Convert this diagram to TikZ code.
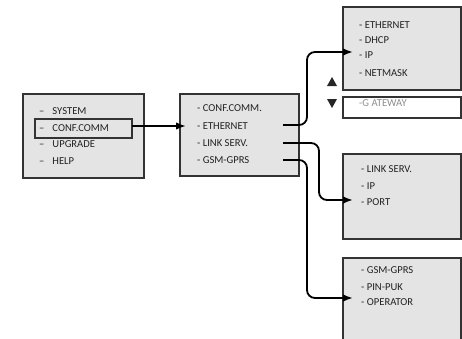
\documentclass[tikz,border=0pt]{standalone}
\usepackage{fontspec}
\setmainfont{Carlito}
\usetikzlibrary{arrows.meta}
\definecolor{boxfill}{HTML}{E4E4E4}
\definecolor{boxline}{HTML}{333333}
\definecolor{txt}{HTML}{222222}
\definecolor{greytxt}{HTML}{8E8E8E}
\begin{document}
\begin{tikzpicture}[x=1pt,y=-1pt,
  panel/.style={draw=boxline,fill=boxfill,line width=1.5pt},
  item/.style={anchor=west,inner sep=0pt,text=txt,font=\fontsize{10.6}{12}\selectfont},
  conn/.style={line width=1.8pt,black,rounded corners=8pt,-{Latex[length=10pt,width=7.5pt]}}]
\useasboundingbox (0,0) rectangle (462,338);
% boxes
\draw[panel] (23,94) rectangle (144,178);
\draw[panel] (180,94) rectangle (299,176);
\draw[panel] (343,7) rectangle (461,90);
\draw[draw=boxline,fill=white,line width=1.3pt] (343,97) rectangle (461,118);
\draw[panel] (343,154) rectangle (461,239);
\draw[panel] (343,258) rectangle (461,350);
% box 1
\node[item] (s1) at (39,111.5) {–\hspace{8pt}SYSTEM};
\node[item] (s2) at (39,128.5) {–\hspace{8pt}CONF.COMM};
\node[item] (s3) at (39,144.5) {–\hspace{8pt}UPGRADE};
\node[item] (s4) at (39,161) {–\hspace{8pt}HELP};
\draw[line width=1.9pt,boxline] (35,119) rectangle (132,138);
\coordinate (hl) at (132,126);
% box 2
\node[item] (c1) at (197,108.5) {- CONF.COMM.};
\node[item] (c2) at (197,126.5) {- ETHERNET};
\node[item] (c3) at (197,143.5) {- LINK SERV.};
\node[item] (c4) at (197,160.5) {- GSM-GPRS};
% box 3
\node[item] (e1) at (359,25) {- ETHERNET};
\node[item] (e2) at (359,40) {- DHCP};
\node[item] (e3) at (359,55.5) {- IP};
\node[item] (e4) at (359,73) {- NETMASK};
\node[item,text=greytxt] (e5) at (359,103) {-G ATEWAY};
% box 4
\node[item] (l1) at (361,169.5) {- LINK SERV.};
\node[item] (l2) at (361,186.5) {- IP};
\node[item] (l3) at (361,202.5) {- PORT};
% box 5
\node[item] (g1) at (361,270.5) {- GSM-GPRS};
\node[item] (g2) at (361,287) {- PIN-PUK};
\node[item] (g3) at (361,302.5) {- OPERATOR};
% scroll triangles
\fill[black!85] (327,86) -- (337,86) -- (332,77) -- cycle;
\fill[black!85] (327,99) -- (337,99) -- (332,108) -- cycle;
% connector ends
\coordinate (b2in) at (186,126);
\coordinate (ethout) at (283,125);
\coordinate (linkout) at (283,143);
\coordinate (gsmout) at (283,160);
\coordinate (b3in) at (353,52);
\coordinate (b4in) at (353,200);
\coordinate (b5in) at (353,298);
% connectors
\draw[conn] (hl) -- (b2in);
\draw[conn] (ethout) -- (307,125) |- (b3in);
\draw[conn] (linkout) -- (319,143) |- (b4in);
\draw[conn] (gsmout) -- (307,160) |- (b5in);
\end{tikzpicture}
\end{document}
